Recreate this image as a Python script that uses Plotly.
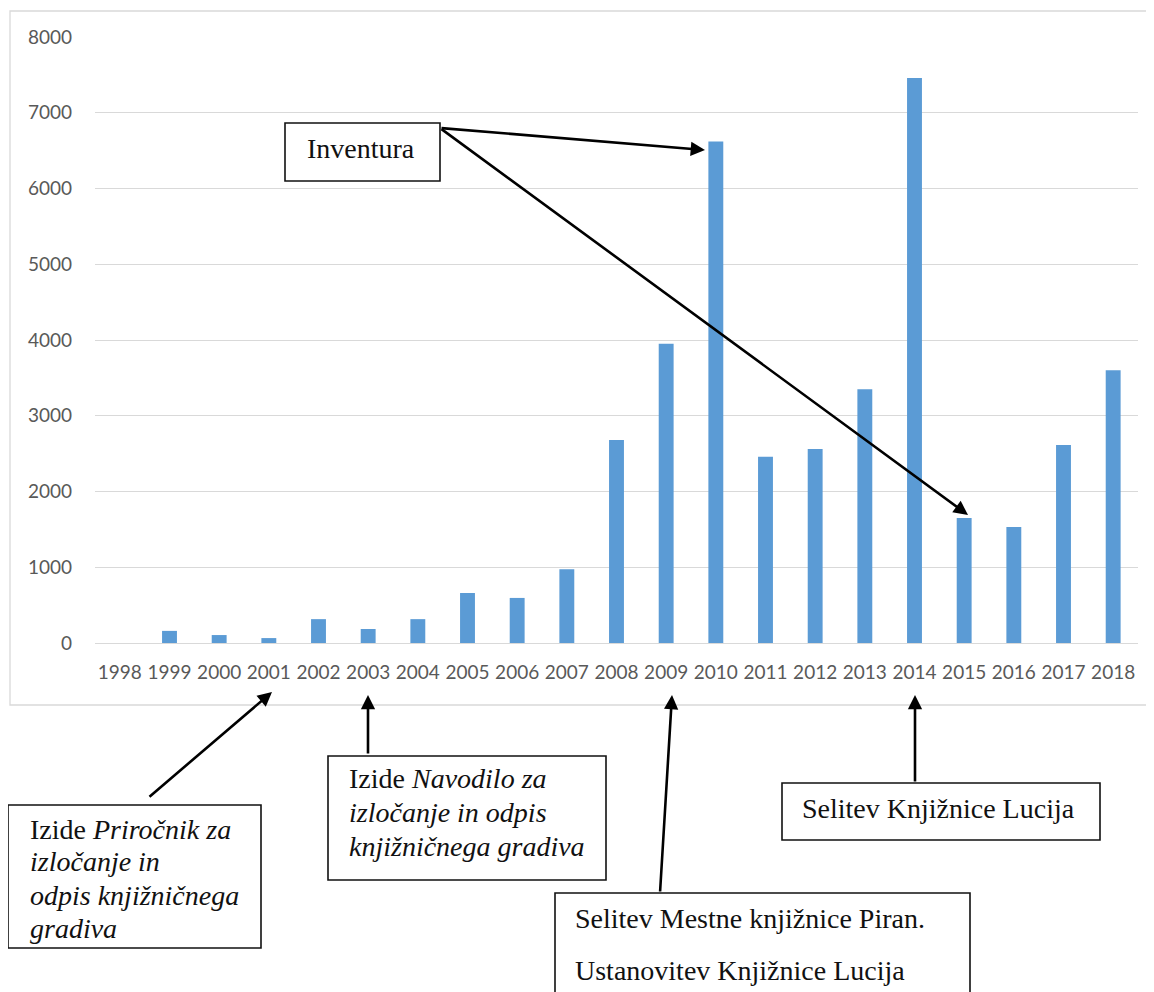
import plotly.graph_objects as go

years = [str(y) for y in range(1998, 2019)]
values = [0, 160, 105, 65, 315, 185, 315, 660, 595, 975, 2680, 3950, 6620,
          2460, 2560, 3350, 7460, 1650, 1530, 2615, 3600]
y_ticks = [0, 1000, 2000, 3000, 4000, 5000, 6000, 7000, 8000]

OFF = 8  # default page body margin
W, H = 1154 - OFF, 992 - OFF
L, R, T, B = 95, 1138, 37, 643  # plot area in reference pixels


def px(x):
    return (x - L) / (R - L)


def py(y):
    return (B - y) / (B - T)


fig = go.Figure(go.Bar(x=years, y=values, marker=dict(color="#5b9bd5", line=dict(width=0)),
                       hoverinfo="x+y"))

fig.update_layout(
    width=W, height=H,
    margin=dict(l=L - OFF, r=1154 - R, t=T - OFF, b=992 - B),
    paper_bgcolor="white", plot_bgcolor="white",
    bargap=0.70, showlegend=False,
    font=dict(family="Lato", size=19, color="#595959"),
)
fig.update_yaxes(range=[0, 8000], tickvals=y_ticks, gridcolor="#d9d9d9", gridwidth=1.3,
                 zeroline=True, zerolinecolor="#d9d9d9", zerolinewidth=1.3,
                 showline=False, ticks="", ticklabelstandoff=22)
fig.update_xaxes(type="category", showline=False, ticks="", ticklabelstandoff=16,
                 tickangle=0)

shapes = []
# outer chart border
shapes.append(dict(type="rect", xref="paper", yref="paper", x0=px(10), x1=px(1148),
                   y0=py(705), y1=py(11), line=dict(color="#d9d9d9", width=1.3)))
boxes = [(285, 123, 440, 181), (8, 805, 261, 948), (328, 756, 606, 880),
         (555, 893, 970, 1010), (782, 783, 1100, 840)]
for x0, y0, x1, y1 in boxes:
    shapes.append(dict(type="rect", xref="paper", yref="paper", x0=px(x0), x1=px(x1),
                       y0=py(y1), y1=py(y0), line=dict(color="#111111", width=1.6),
                       fillcolor="rgba(255,255,255,0)"))
fig.update_layout(shapes=shapes)

serif = dict(family="Liberation Serif", size=28, color="#111111")
texts = [
    (305, 148, "Inventura"),
    (28, 829, "Izide <i>Priročnik za</i>"),
    (28, 862, "<i>izločanje in</i>"),
    (28, 895, "<i>odpis knjižničnega</i>"),
    (28, 928, "<i>gradiva</i>"),
    (347, 778, "Izide <i>Navodilo za</i>"),
    (347, 812, "<i>izločanje in odpis</i>"),
    (347, 846, "<i>knjižničnega gradiva</i>"),
    (573, 918, "Selitev Mestne knjižnice Piran."),
    (573, 970, "Ustanovitev Knjižnice Lucija"),
    (800, 808, "Selitev Knjižnice Lucija"),
]
ann = []
for x, y, t in texts:
    ann.append(dict(x=px(x), y=py(y), xref="paper", yref="paper", text=t, showarrow=False,
                    xanchor="left", yanchor="middle", font=serif))

arrows = [
    ((148, 798), (272, 692)),
    ((368, 755), (368, 695)),
    ((660, 893), (672, 695)),
    ((915, 783), (915, 695)),
    ((440, 128), (705, 150)),
    ((440, 128), (968, 515)),
]
for (tx, ty), (hx, hy) in arrows:
    ann.append(dict(x=px(hx), y=py(hy), xref="paper", yref="paper", text="",
                    showarrow=True, ax=tx - hx, ay=ty - hy, axref="pixel", ayref="pixel",
                    arrowhead=2, arrowsize=1.1, arrowwidth=2.6, arrowcolor="#000000",
                    standoff=0, startstandoff=0))
fig.update_layout(annotations=ann)

fig.write_html("out.html")
